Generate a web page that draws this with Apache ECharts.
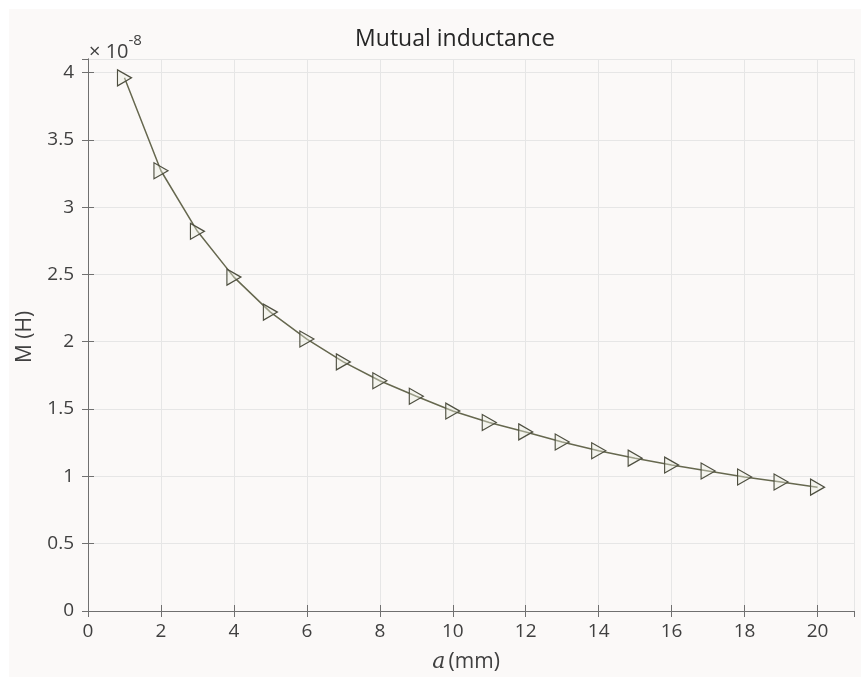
<!DOCTYPE html>
<html>
<head>
<meta charset="utf-8">
<script src="https://cdn.jsdelivr.net/npm/echarts@6/dist/echarts.min.js"></script>
<style>html,body{margin:0;padding:0;background:#fff}#c{width:861px;height:677px}</style>
</head>
<body>
<div id="c"></div>
<script>
// a (mm)
const aValues = [1,2,3,4,5,6,7,8,9,10,11,12,13,14,15,16,17,18,19,20];
// M (H), in units of 1e-8 H
const mValues = [3.96,3.27,2.82,2.48,2.22,2.02,1.85,1.71,1.595,1.485,1.40,1.33,1.255,1.19,1.135,1.084,1.04,0.995,0.958,0.92];
const xTicks = [0,2,4,6,8,10,12,14,16,18,20];
const yTicks = [0,0.5,1,1.5,2,2.5,3,3.5,4];
const titleText = 'Mutual inductance';
const xLabel = '(mm)';
const yLabel = 'M (H)';

const FONT = '"Open Sans", "Noto Sans", sans-serif';
const axisColor = '#707070';
const gridColor = '#e6e6e6';
const txtColor = '#404040';

const chart = echarts.init(document.getElementById('c'));
const baseAxis = {
  type: 'value',
  axisLine: {show: true, lineStyle: {color: axisColor, width: 1}},
  axisTick: {show: true, inside: true, length: 6, lineStyle: {color: axisColor}},
  splitLine: {show: false}
};
chart.setOption({
  backgroundColor: '#ffffff',
  animation: false,
  graphic: [
    {type: 'rect', z: -10, shape: {x: 9, y: 9, width: 852, height: 668}, style: {fill: '#fbf9f8'}},
    {type: 'text', x: 455, y: 39, style: {text: titleText, align: 'center', verticalAlign: 'middle', font: '23px ' + FONT, fill: '#262626'}},
    {type: 'text', x: 89, y: 28, style: {text: '{a|× 10}{b|-8}', rich: {a: {font: '20px ' + FONT, fill: txtColor, height: 26, verticalAlign: 'bottom'}, b: {font: '15px ' + FONT, fill: txtColor, height: 26, verticalAlign: 'top', padding: [0,0,11,0]}}}},
    {type: 'text', x: 466, y: 662, style: {text: '{i|a} {n|' + xLabel + '}', align: 'center', verticalAlign: 'middle', rich: {i: {font: 'italic 22px "DejaVu Serif", serif', fill: txtColor}, n: {font: '21px ' + FONT, fill: txtColor}}}},
    {type: 'text', x: 25, y: 337, rotation: Math.PI/2, style: {text: yLabel, align: 'center', verticalAlign: 'middle', font: '21px ' + FONT, fill: txtColor}}
  ],
  grid: {left: 88, right: 7, top: 59, bottom: 66, containLabel: false},
  xAxis: [
    Object.assign({}, baseAxis, {
      min: 0, max: 21, interval: 2, position: 'bottom',
      splitLine: {show: true, lineStyle: {color: gridColor, width: 1}},
      axisLabel: {show: true, margin: 11, fontSize: 19, fontFamily: FONT, color: txtColor, showMaxLabel: false,
        formatter: v => xTicks.indexOf(v) >= 0 ? String(v) : ''}
    }),
    Object.assign({}, baseAxis, {min: 0, max: 21, interval: 2, position: 'top', axisLabel: {show: false}})
  ],
  yAxis: [
    Object.assign({}, baseAxis, {
      min: 0, max: 4.1, interval: 0.5, position: 'left',
      splitLine: {show: true, lineStyle: {color: gridColor, width: 1}},
      axisLabel: {show: true, margin: 14, fontSize: 19, fontFamily: FONT, color: txtColor, showMaxLabel: false,
        formatter: v => yTicks.indexOf(v) >= 0 ? String(v) : ''}
    }),
    Object.assign({}, baseAxis, {min: 0, max: 4.1, interval: 0.5, position: 'right', axisLabel: {show: false}})
  ],
  series: [{
    type: 'line',
    data: aValues.map((a, i) => [a, mValues[i]]),
    smooth: false,
    lineStyle: {color: '#66684f', width: 1.5},
    symbol: 'path://M0,0 L13,7.5 L0,15 Z',
    symbolSize: [14, 16],
    symbolKeepAspect: false,
    showAllSymbol: true,
    itemStyle: {color: 'rgba(235,237,222,0.4)', borderColor: '#4e4f40', borderWidth: 1.2}
  }]
});
</script>
</body>
</html>
